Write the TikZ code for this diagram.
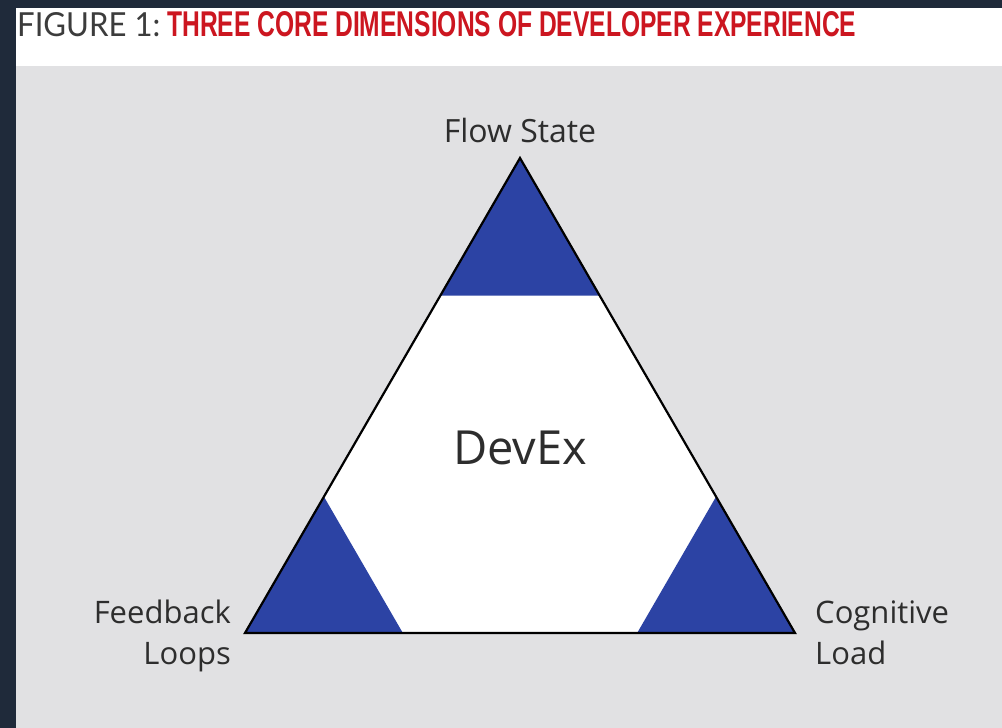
\documentclass[tikz,border=0pt]{standalone}
\usepackage{fontspec}
\usepackage{graphicx}
\usetikzlibrary{calc}
\setmainfont{Open Sans}
\newfontfamily\headfont{Liberation Sans}
\newfontfamily\capfont{Lato}

\definecolor{frame}{RGB}{31,42,58}
\definecolor{panel}{RGB}{225,225,227}
\definecolor{dimblue}{RGB}{44,67,164}
\definecolor{ink}{RGB}{45,45,45}
\definecolor{headred}{RGB}{204,22,32}
\definecolor{headgray}{RGB}{60,60,60}

\tikzset{
  lab/.style={inner sep=0pt, text=ink, font=\fontsize{31}{41}\selectfont},
  corner/.style={fill=dimblue, draw=none},
  outline/.style={draw=black, line width=2.2pt, line join=miter}
}

\begin{document}
\begin{tikzpicture}[x=1pt, y=-1pt]
  \useasboundingbox (0,0) rectangle (1002,728);
  % frame, title strip and grey panel
  \fill[frame] (0,0) rectangle (1002,728);
  \fill[white] (16,8) rectangle (1002,66);
  \fill[panel] (16,66) rectangle (1002,728);

  % title
  \node[inner sep=0pt, anchor=south west, text=headgray] (fig) at (17,37)
    {\resizebox{143pt}{24pt}{\capfont FIGURE 1:}};
  \node[inner sep=0pt, anchor=south west, text=headred] (title) at (167,37)
    {\resizebox{689pt}{25pt}{\headfont\bfseries THREE CORE DIMENSIONS OF DEVELOPER EXPERIENCE}};

  % triangle corners
  \coordinate (A) at (520,158);
  \coordinate (B) at (245,633);
  \coordinate (C) at (795,633);

  \fill[white] (A) -- (B) -- (C) -- cycle;
  \fill[corner] (A) -- ($(A)!0.29!(B)$) -- ($(A)!0.29!(C)$) -- cycle;
  \fill[corner] (B) -- ($(B)!0.287!(A)$) -- ($(B)!0.287!(C)$) -- cycle;
  \fill[corner] (C) -- ($(C)!0.287!(A)$) -- ($(C)!0.287!(B)$) -- cycle;
  \draw[outline] (A) -- (B) -- (C) -- cycle;

  % labels (a two-line node sits on the baseline of its last line)
  \node[lab, anchor=base, font=\fontsize{32}{41}\selectfont] (flow) at (520,142) {Flow State};
  \node[lab, anchor=base, font=\fontsize{47}{50}\selectfont] (devex) at (520,464) {DevEx};
  \node[lab, anchor=base east, align=right] (feedback) at (231,664) {Feedback\\Loops};
  \node[lab, anchor=base west, align=left] (cognitive) at (815,664) {Cognitive\\Load};
\end{tikzpicture}
\end{document}
